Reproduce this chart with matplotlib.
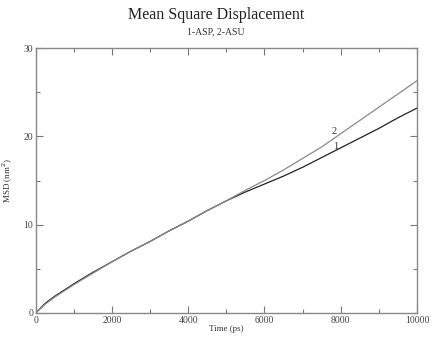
import matplotlib
matplotlib.use("Agg")
import matplotlib.pyplot as plt
from matplotlib.ticker import MultipleLocator

time_ps = [0, 250, 500, 1000, 1500, 2000, 2500, 3000, 3500, 4000, 4500, 5000,
           5500, 6000, 6500, 7000, 7500, 8000, 8500, 9000, 9500, 10000]
msd_asp = [0, 1.1, 1.9, 3.3, 4.6, 5.8, 7.0, 8.1, 9.3, 10.4, 11.6, 12.7,
           13.7, 14.6, 15.5, 16.5, 17.6, 18.7, 19.8, 20.9, 22.1, 23.2]
msd_asu = [0, 1.0, 1.8, 3.2, 4.5, 5.8, 7.0, 8.1, 9.3, 10.4, 11.6, 12.7,
           13.9, 15.0, 16.2, 17.5, 18.8, 20.3, 21.8, 23.3, 24.8, 26.3]
series_labels = ["1", "2"]
title = "Mean Square Displacement"
subtitle = "1-ASP, 2-ASU"

plt.rcParams['font.family'] = ['Liberation Serif', 'DejaVu Serif']

fig = plt.figure(figsize=(4.32, 3.39), dpi=100)
ax = fig.add_axes([0.083, 0.077, 0.882, 0.781])

ax.plot(time_ps, msd_asp, color='#222222', lw=0.9)
ax.plot(time_ps, msd_asu, color='#8a8a8a', lw=0.9)

ax.text(7820, 20.0, series_labels[1], fontsize=7.5, color='#333333', ha='center', va='bottom')
ax.text(7870, 18.3, series_labels[0], fontsize=7.5, color='#333333', ha='center', va='bottom')

ax.set_xlim(0, 10000)
ax.set_ylim(0, 30)
ax.xaxis.set_major_locator(MultipleLocator(2000))
ax.xaxis.set_minor_locator(MultipleLocator(1000))
ax.yaxis.set_major_locator(MultipleLocator(10))
ax.yaxis.set_minor_locator(MultipleLocator(5))
ax.tick_params(which='both', direction='in', top=True, right=True,
               colors='#777777', labelcolor='#444444', labelsize=7, width=0.8)
ax.tick_params(which='major', length=5, pad=2)
ax.tick_params(which='minor', length=3)
for s in ax.spines.values():
    s.set_color('#888888')
    s.set_linewidth(1.0)

ax.set_xlabel("Time (ps)", fontsize=6.5, color='#333333', labelpad=0)
ax.set_ylabel("MSD (nm$^2$)", fontsize=6.5, color='#333333', labelpad=6)

fig.text(0.5, 0.955, title, ha='center', va='center', fontsize=11.5, color='#222222')
fig.text(0.5, 0.905, subtitle, ha='center', va='center', fontsize=7, color='#333333')

fig.savefig("out.png", dpi=100)
